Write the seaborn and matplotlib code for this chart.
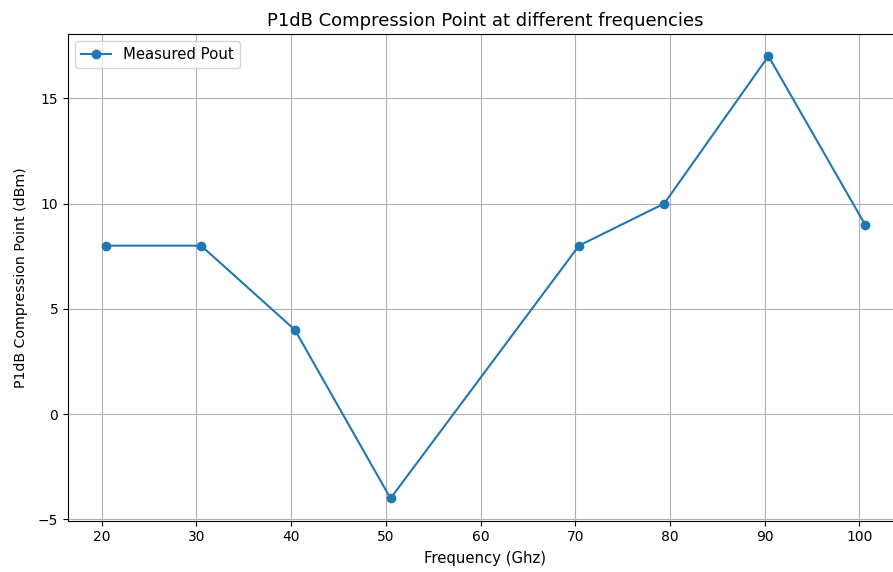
import matplotlib
matplotlib.use("Agg")
import matplotlib.pyplot as plt
import seaborn as sns
import pandas as pd

freq = [20.45, 30.5, 40.4, 50.5, 70.4, 79.4, 90.4, 100.6]
pout = [8, 8, 4, -4, 8, 10, 17, 9]
series_label = "Measured Pout"

df = pd.DataFrame({"Frequency": freq, "Pout": pout})

plt.rcParams['font.family'] = ['DejaVu Sans']
plt.rcParams['font.size'] = 10.7
plt.rcParams['xtick.labelsize'] = 10
plt.rcParams['ytick.labelsize'] = 10
fig = plt.figure(figsize=(8.93, 5.72), dpi=100)
W, H = 893, 572
left, right, top, bottom = 68, 903, 34, 520.5
ax = fig.add_axes([left / W, (H - bottom) / H, (right - left) / W, (bottom - top) / H])

sns.lineplot(data=df, x="Frequency", y="Pout", marker="o", color="#1f77b4",
             markeredgecolor="#1f77b4", markeredgewidth=1, markersize=6,
             linewidth=1.5, label=series_label, ax=ax, sort=False)

ax.grid(True, color="#b0b0b0", linewidth=0.8)
ax.set_axisbelow(True)
ax.set_title("P1dB Compression Point at different frequencies", fontsize=13)
ax.set_xlabel("Frequency (Ghz)", labelpad=5)
ax.set_ylabel("P1dB Compression Point (dBm)", fontsize=10.2, labelpad=7)
ax.set_xticks([20, 30, 40, 50, 60, 70, 80, 90, 100])
ax.set_yticks([-5, 0, 5, 10, 15])
ax.legend(loc="upper left")

fig.savefig("out.png", dpi=100)
